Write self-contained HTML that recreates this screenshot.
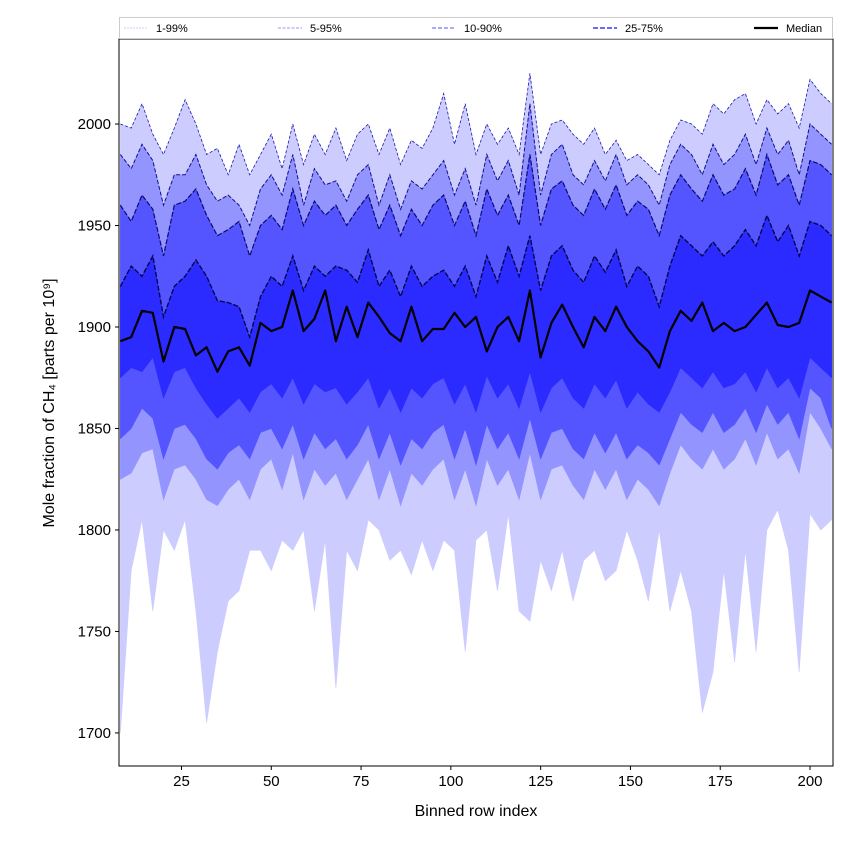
<!DOCTYPE html>
<html><head><meta charset="utf-8"><style>
body{margin:0;background:#fff;font-family:"Liberation Sans","DejaVu Sans",sans-serif}
svg{display:block}
</style></head><body>
<svg id="chart" width="850" height="850" xmlns="http://www.w3.org/2000/svg"></svg>
<script>
const xStart=8, xStep=3;
const p50=[1893,1895,1908,1907,1883,1900,1899,1886,1890,1878,1888,1890,1881,1902,1898,1900,1918,1898,1904,1918,1893,1910,1895,1912,1905,1897,1893,1910,1893,1899,1899,1907,1900,1905,1888,1900,1905,1893,1918,1885,1902,1911,1900,1890,1905,1898,1910,1900,1893,1888,1880,1898,1908,1903,1912,1898,1902,1898,1900,1906,1912,1901,1900,1902,1918,1915,1912];
const p75=[1920,1930,1925,1935,1905,1920,1925,1933,1925,1913,1912,1910,1895,1915,1925,1920,1935,1918,1930,1925,1930,1928,1922,1938,1920,1928,1915,1930,1920,1925,1928,1920,1930,1915,1935,1922,1940,1925,1945,1918,1935,1940,1928,1922,1935,1927,1938,1920,1930,1925,1910,1930,1945,1940,1935,1942,1935,1940,1948,1940,1955,1942,1950,1935,1952,1950,1945];
const p90=[1960,1952,1965,1958,1935,1960,1962,1968,1955,1945,1948,1952,1935,1950,1955,1948,1968,1950,1962,1955,1960,1950,1958,1965,1948,1960,1945,1958,1950,1960,1965,1950,1962,1945,1968,1955,1965,1950,1985,1950,1968,1972,1960,1955,1968,1958,1970,1955,1962,1958,1945,1965,1975,1968,1962,1975,1965,1968,1978,1965,1985,1970,1975,1960,1982,1980,1975];
const p95=[1985,1978,1990,1982,1960,1975,1975,1985,1970,1962,1965,1960,1950,1968,1975,1965,1985,1960,1978,1970,1972,1962,1975,1980,1960,1975,1958,1972,1968,1975,1982,1965,1978,1960,1985,1972,1982,1965,2010,1965,1985,1990,1975,1970,1982,1972,1985,1970,1975,1970,1960,1980,1990,1985,1975,1990,1980,1985,1995,1980,1998,1985,1992,1975,2000,1995,1990];
const p99=[2000,1998,2010,1995,1985,1998,2012,2000,1985,1988,1975,1990,1975,1985,1995,1978,2000,1980,1995,1985,1998,1982,1995,2000,1985,1998,1980,1992,1988,1998,2015,1990,2010,1985,2000,1990,1998,1985,2025,1985,2000,2002,1995,1990,1998,1985,1992,1982,1985,1980,1975,1992,2002,2000,1995,2010,2005,2012,2015,2000,2012,2005,2010,1998,2022,2015,2010];
const p25=[1875,1880,1878,1885,1865,1878,1880,1870,1862,1855,1860,1865,1858,1868,1872,1865,1875,1862,1872,1868,1870,1862,1868,1875,1860,1870,1858,1870,1865,1872,1875,1862,1872,1858,1876,1865,1872,1860,1878,1858,1870,1875,1865,1860,1872,1865,1874,1860,1868,1862,1858,1868,1880,1875,1870,1878,1870,1872,1878,1868,1880,1870,1875,1865,1885,1880,1875];
const p10=[1845,1850,1860,1855,1835,1850,1852,1845,1835,1830,1838,1842,1835,1848,1850,1840,1852,1835,1848,1840,1845,1835,1842,1852,1835,1848,1832,1845,1840,1848,1852,1835,1850,1832,1852,1840,1848,1835,1855,1835,1848,1850,1840,1835,1848,1838,1848,1835,1842,1838,1832,1845,1858,1852,1848,1858,1848,1852,1860,1848,1862,1852,1858,1845,1870,1865,1850];
const p5=[1825,1828,1838,1840,1815,1830,1832,1825,1815,1812,1820,1825,1815,1830,1835,1820,1838,1815,1830,1822,1828,1815,1825,1835,1815,1830,1812,1828,1822,1830,1835,1815,1830,1812,1835,1822,1830,1815,1838,1815,1830,1832,1822,1815,1830,1820,1830,1815,1825,1820,1812,1828,1842,1835,1830,1840,1830,1835,1845,1832,1848,1835,1840,1828,1858,1850,1840];
const p1=[1700,1780,1805,1760,1800,1790,1805,1760,1705,1740,1765,1770,1790,1790,1780,1795,1790,1800,1760,1795,1722,1790,1780,1805,1800,1785,1790,1778,1795,1780,1795,1790,1740,1795,1800,1770,1808,1760,1755,1785,1770,1790,1765,1785,1790,1775,1780,1800,1785,1765,1800,1760,1780,1760,1710,1730,1780,1735,1790,1740,1800,1810,1790,1730,1808,1800,1805];
const xTicks=[25,50,75,100,125,150,175,200];
const yTicks=[1700,1750,1800,1850,1900,1950,2000];

const L=119,R=833,T=39,B=766;
const X0=7.6,X1=206.4,Y0=1683.7,Y1=2041.9;
const sx=v=>L+(v-X0)/(X1-X0)*(R-L);
const sy=v=>B-(v-Y0)/(Y1-Y0)*(B-T);
const NS="http://www.w3.org/2000/svg";
const svg=document.getElementById('chart');
function mk(tag,attrs,parent){const e=document.createElementNS(NS,tag);for(const k in attrs)e.setAttribute(k,attrs[k]);(parent||svg).appendChild(e);return e;}
const n=Math.min(p1.length,p5.length,p10.length,p25.length,p50.length,p75.length,p90.length,p95.length,p99.length);
const xv=i=>xStart+i*xStep;
function pts(arr){let s=[];for(let i=0;i<n;i++)s.push(sx(xv(i)).toFixed(1)+','+sy(arr[i]).toFixed(1));return s;}
const clip=mk('clipPath',{id:'pc'},mk('defs',{}));
mk('rect',{x:L,y:T,width:R-L,height:B-T},clip);
const g=mk('g',{'clip-path':'url(#pc)'});


const bands=[[p1,p99,'#ccccff','band-1-99'],[p5,p95,'#9494ff','band-5-95'],[p10,p90,'#5555ff','band-10-90'],[p25,p75,'#2b2bff','band-25-75']];
bands.forEach(b=>{
  const lo=pts(b[0]),hi=pts(b[1]).reverse();
  const p=mk('polygon',{points:lo.concat(hi).join(' '),fill:b[2],stroke:b[2],'stroke-width':0.6},g);
  
  
});
const lines=[[p99,'#1a1aa8',0.8,'3,2','line-p99'],[p95,'#10108a',1,'4,2','line-p95'],[p90,'#0a0a70',1.2,'5,2','line-p90'],[p75,'#06064a',1.4,'5,2','line-p75']];
lines.forEach(l=>{
  const p=mk('polyline',{points:pts(l[0]).join(' '),fill:'none',stroke:l[1],'stroke-width':l[2],'stroke-dasharray':l[3]},g);
  
  
});
const med=mk('polyline',{points:pts(p50).join(' '),fill:'none',stroke:'#000','stroke-width':2.2,'stroke-linejoin':'round'},g);


// axes frame
const fr=mk('rect',{x:L,y:T,width:R-L,height:B-T,fill:'none',stroke:'#000','stroke-width':1});


xTicks.forEach(t=>{
  mk('line',{x1:sx(t),x2:sx(t),y1:B,y2:B+4,stroke:'#000'});
  const tx=mk('text',{x:sx(t),y:B+20,'text-anchor':'middle','font-size':15});
  tx.textContent=t;
  
  
});
yTicks.forEach(t=>{
  mk('line',{x1:L-4,x2:L,y1:sy(t),y2:sy(t),stroke:'#000'});
  const tx=mk('text',{x:L-8,y:sy(t)+5,'text-anchor':'end','font-size':15});
  tx.textContent=t;
  
  
});
const xl=mk('text',{x:476,y:816,'text-anchor':'middle','font-size':16});
xl.textContent='Binned row index';


const yl=mk('text',{x:0,y:0,'text-anchor':'middle','font-size':16,transform:'translate(54,403) rotate(-90)'});
yl.textContent='Mole fraction of CH₄ [parts per 10⁹]';


// legend
const lg=mk('g',{});


mk('rect',{x:119.5,y:17.5,width:713,height:21,fill:'#fff',stroke:'#ccc'},lg);
const entries=[[124,'1-99%','#ccccff',1,'2,1','legend-1-99'],[278,'5-95%','#9494ff',1,'3,1.5','legend-5-95'],[432,'10-90%','#7777ff',1.3,'4,2','legend-10-90'],[593,'25-75%','#5555ff',1.8,'5,2','legend-25-75'],[754,'Median','#000',2.2,'','legend-median']];
entries.forEach(e=>{
  const eg=mk('g',{},lg);
  
  
  const a={x1:e[0],x2:e[0]+24,y1:28,y2:28,stroke:e[2],'stroke-width':e[3]};
  if(e[4])a['stroke-dasharray']=e[4];
  mk('line',a,eg);
  const t=mk('text',{x:e[0]+32,y:32,'font-size':11},eg);
  t.textContent=e[1];
});
</script>
</body></html>
